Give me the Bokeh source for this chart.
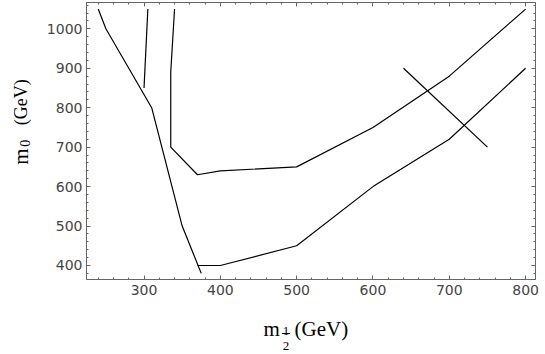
import math
from bokeh.plotting import figure
from bokeh.models import Range1d, SingleIntervalTicker, LinearAxis
from bokeh.layouts import column, row
from bokeh.core.properties import value
from bokeh.embed import file_html
from bokeh.resources import INLINE

# ---- data ----
steep_x = [240, 250, 310, 350, 375]
steep_y = [1050, 1000, 800, 500, 380]
lower_x = [370, 400, 500, 600, 700, 800]
lower_y = [400, 400, 450, 600, 720, 900]
short_x = [305, 300]
short_y = [1050, 850]
upper_x = [340, 335, 335, 370, 400, 500, 600, 700, 800]
upper_y = [1050, 890, 700, 630, 640, 650, 750, 880, 1050]
cross_x = [640, 750]
cross_y = [900, 700]

X0, X1 = 224.6, 813.0
Y0, Y1 = 364.5, 1066.7

YW = 40            # width of y-label strip
TOPH = 309         # height of top row
XH = 354 - TOPH    # height of x-label strip
SERIF = "Liberation Serif"
GRAY = "#666666"

p = figure(output_backend="svg", toolbar_location=None,
           frame_width=449, frame_height=277,
           min_border_left=86 - YW, min_border_right=10,
           min_border_top=2, min_border_bottom=TOPH - 2 - 277,
           x_range=Range1d(X0, X1), y_range=Range1d(Y0, Y1),
           x_axis_type=None, y_axis_type=None)
p.outline_line_color = GRAY
p.xgrid.visible = False
p.ygrid.visible = False


def mk_axis(labels=True):
    ax = LinearAxis(ticker=SingleIntervalTicker(interval=100, num_minor_ticks=5))
    ax.axis_line_color = GRAY
    ax.major_tick_line_color = GRAY
    ax.minor_tick_line_color = GRAY
    ax.major_tick_in = 4
    ax.major_tick_out = 0
    ax.minor_tick_in = 2
    ax.minor_tick_out = 0
    if labels:
        ax.major_label_text_font = "DejaVu Sans"
        ax.major_label_text_font_size = "14px"
        ax.major_label_text_color = "#444444"
    else:
        ax.major_label_text_font_size = "1px"
        ax.major_label_text_color = None
        ax.major_label_standoff = 0
    return ax


bx = mk_axis()
bx.major_label_standoff = 5
ly = mk_axis()
ly.major_label_standoff = 4
p.add_layout(bx, "below")
p.add_layout(ly, "left")
p.add_layout(mk_axis(False), "above")
p.add_layout(mk_axis(False), "right")

for xs, ys in [(steep_x, steep_y), (lower_x, lower_y), (short_x, short_y),
               (upper_x, upper_y), (cross_x, cross_y)]:
    p.line(xs, ys, line_color="black", line_width=1.2)


def strip(w, h):
    f = figure(output_backend="svg", toolbar_location=None,
               width=w, height=h, min_border=0,
               min_border_left=0, min_border_right=0,
               min_border_top=0, min_border_bottom=0,
               x_range=Range1d(0, w), y_range=Range1d(0, h),
               x_axis_type=None, y_axis_type=None)
    f.outline_line_color = None
    f.xgrid.visible = False
    f.ygrid.visible = False
    return f


# y-axis label strip (coordinates: px from left, py from top)
yf = strip(YW, TOPH)


def ytxt(t, px, py, size):
    yf.text(x=[px], y=[TOPH - py], text=[t], angle=math.pi / 2,
            text_font=value(SERIF), text_font_size=size,
            text_align="left", text_baseline="alphabetic", text_color="black")


ytxt("m", 20.5, 181, "21px")
ytxt("0", 24.5, 161, "14px")
ytxt("(GeV)", 20.5, 137, "18px")

# x-axis label strip
xf = strip(545, XH)


def xtxt(t, px, py, size, align="left"):
    xf.text(x=[px], y=[XH - (py - TOPH)], text=[t],
            text_font=value(SERIF), text_font_size=size,
            text_align=align, text_baseline="alphabetic", text_color="black")


xtxt("m", 263, 328.5, "21px")
xtxt("1", 285.5, 330, "13px", align="center")
xtxt("2", 285.5, 345.5, "13px", align="center")
xf.segment(x0=[281.5], y0=[XH - (333 - TOPH)], x1=[289.5], y1=[XH - (333 - TOPH)],
           line_color="black", line_width=1)
xtxt("(GeV)", 294, 328.5, "21px")

layout = column(row(yf, p, spacing=0), xf, spacing=0)
open("out.html", "w").write(file_html(layout, INLINE))
